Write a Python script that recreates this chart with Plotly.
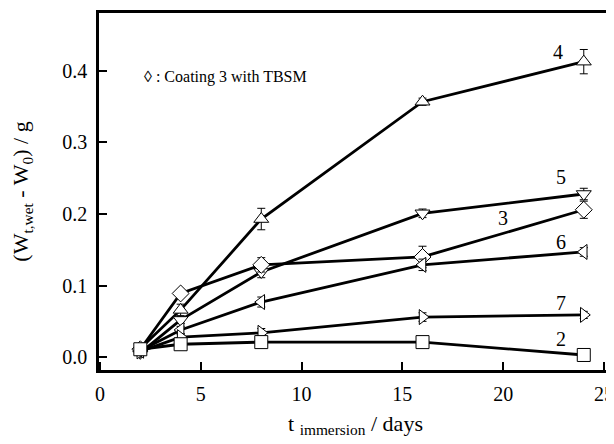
import plotly.graph_objects as go

days = [2, 4, 8, 16, 24]

coating_labels = ["4", "5", "3", "6", "7", "2"]
s4 = [0.012, 0.066, 0.193, 0.357, 0.413]
s5 = [0.006, 0.052, 0.119, 0.201, 0.228]
s3 = [0.011, 0.089, 0.129, 0.140, 0.206]
s6 = [0.009, 0.038, 0.077, 0.129, 0.147]
s7 = [0.008, 0.028, 0.034, 0.056, 0.059]
s2 = [0.011, 0.018, 0.021, 0.021, 0.003]

e4 = [0.004, 0.008, 0.015, 0.005, 0.017]
e5 = [0.004, 0.005, 0.008, 0.006, 0.008]
e3 = [0.004, 0.005, 0.010, 0.015, 0.012]
e6 = [0.004, 0.005, 0.007, 0.008, 0.006]
e7 = [0.004, 0.004, 0.006, 0.006, 0.005]
e2 = [0.004, 0.006, 0.004, 0.003, 0.002]

x_ticks = [0, 5, 10, 15, 20, 25]
y_ticks = [0.0, 0.1, 0.2, 0.3, 0.4]

series = [
    (s4, e4, "triangle-up"),
    (s5, e5, "triangle-down"),
    (s3, e3, "diamond"),
    (s6, e6, "triangle-left"),
    (s7, e7, "triangle-right"),
    (s2, e2, "square"),
]

FONT = "Liberation Serif"

fig = go.Figure()
for (ys, es, sym), name in zip(series, coating_labels):
    fig.add_trace(go.Scatter(
        x=days, y=ys, mode="lines+markers", name=name,
        line=dict(color="black", width=2.8),
        marker=dict(symbol=sym, size=13, color="white",
                    line=dict(color="black", width=1)),
        error_y=dict(type="data", array=es, visible=True,
                     color="black", thickness=1, width=4),
        showlegend=False,
    ))

# curve labels
label_pos = {"4": (22.7, 0.427), "5": (22.85, 0.252), "3": (20.0, 0.194),
             "6": (22.85, 0.161), "7": (22.85, 0.075), "2": (22.85, 0.025)}
for lab, (lx, ly) in label_pos.items():
    fig.add_annotation(x=lx, y=ly, text=lab, showarrow=False,
                       font=dict(family=FONT, size=20, color="black"))

fig.add_annotation(x=2.1, y=0.392, xanchor="left", text="◊ : Coating 3 with TBSM",
                   showarrow=False, font=dict(family=FONT, size=16, color="black"))

# thin right border
fig.add_shape(type="line", xref="paper", yref="paper", x0=1, x1=1, y0=0, y1=1,
              line=dict(color="#999999", width=1))

fig.update_xaxes(
    range=[-0.05, 25.4], tickvals=x_ticks, ticktext=[str(v) for v in x_ticks],
    ticks="inside", ticklen=8, tickwidth=2, tickcolor="black",
    showline=True, linecolor="black", linewidth=2.5, mirror=True,
    showgrid=False, zeroline=False, automargin=False, ticklabelstandoff=4,
    tickfont=dict(family=FONT, size=20, color="black"),
    title=dict(text="t <sub>immersion</sub> / days",
               font=dict(family=FONT, size=22, color="black"), standoff=12),
)
fig.update_yaxes(
    range=[-0.018, 0.481], tickvals=y_ticks, tickformat=".1f",
    ticks="inside", ticklen=8, tickwidth=2, tickcolor="black",
    showline=True, linecolor="black", linewidth=2.5,
    showgrid=False, zeroline=False, automargin=False, ticklabelstandoff=5,
    tickfont=dict(family=FONT, size=20, color="black"),
    title=dict(text="(W<sub>t,wet</sub> - W<sub>0</sub>) / g",
               font=dict(family=FONT, size=22, color="black"), standoff=30),
)

fig.update_layout(
    width=606, height=436,
    margin=dict(l=91, r=2, t=5, b=74),
    plot_bgcolor="white", paper_bgcolor="white",
)

fig.write_html("out.html")
